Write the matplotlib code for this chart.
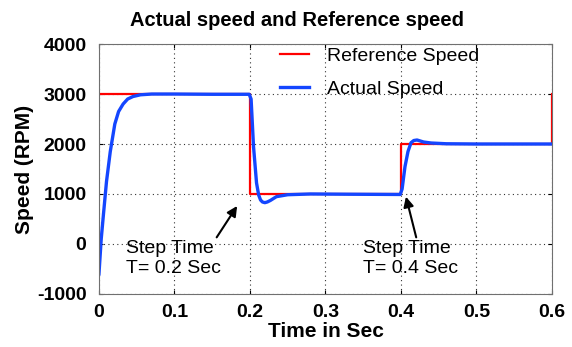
import matplotlib
matplotlib.use("Agg")
from matplotlib import pyplot as plt

# speed command (steps) and measured motor speed, time in seconds
ref_time = [0.0, 0.2, 0.4, 0.6]
ref_speed = [3000, 1000, 2000, 3000]

act_time = [0.0, 0.003, 0.006, 0.010, 0.015, 0.021, 0.026, 0.032, 0.038, 0.045,
            0.055, 0.07, 0.1, 0.15, 0.199, 0.2015, 0.2047, 0.2087, 0.2115, 0.214,
            0.2165, 0.2197, 0.223, 0.227, 0.235, 0.25, 0.28, 0.33, 0.399, 0.4015,
            0.4053, 0.4093, 0.4133, 0.417, 0.4213, 0.43, 0.44, 0.46, 0.5, 0.6]
act_speed = [-600, 100, 600, 1250, 1850, 2400, 2650, 2800, 2900, 2950,
             2985, 3000, 3000, 2995, 2995, 2900, 1950, 1220, 980, 880,
             840, 826, 840, 870, 946, 985, 1000, 995, 990, 1100,
             1546, 1850, 2026, 2070, 2080, 2040, 2020, 2005, 2000, 2000]

xticks = [0, 0.1, 0.2, 0.3, 0.4, 0.5, 0.6]
yticks = [-1000, 0, 1000, 2000, 3000, 4000]

plt.rcParams['font.family'] = ['Liberation Sans', 'DejaVu Sans']
plt.rcParams['axes.unicode_minus'] = False

fig = plt.figure(figsize=(5.72, 3.47), dpi=100)
ax = fig.add_axes([0.173, 0.153, 0.792, 0.720])

ax.plot(ref_time, ref_speed, color="#ff0000", lw=1.6, drawstyle="steps-post",
        label="Reference Speed")
ax.plot(act_time, act_speed, color="#1446ff", lw=2.4, label="Actual Speed")

ax.set_xlim(0, 0.6)
ax.set_ylim(-1000, 4000)
ax.set_xticks(xticks)
ax.set_xticklabels(["0", "0.1", "0.2", "0.3", "0.4", "0.5", "0.6"])
ax.set_yticks(yticks)
ax.tick_params(direction="in", length=3, labelsize=14, top=True, right=True)
ax.tick_params(axis="x", pad=7)
ax.tick_params(axis="y", pad=9)
for lab in ax.get_xticklabels() + ax.get_yticklabels():
    lab.set_fontweight("bold")
ax.grid(True, linestyle=(0, (1, 3)), color="#333333", lw=0.8)
for s in ax.spines.values():
    s.set_color("#707070")

ax.set_xlabel("Time in Sec", fontsize=15, fontweight="bold", labelpad=1)
ax.set_ylabel("Speed (RPM)", fontsize=15, fontweight="bold", labelpad=2)
fig.text(0.519, 0.942, "Actual speed and Reference speed", ha="center", va="center",
         fontsize=14.5, fontweight="bold")

ax.legend(loc="upper left", bbox_to_anchor=(0.395, 0.995), frameon=False, fontsize=14,
          handlelength=1.5, handletextpad=0.9, labelspacing=0.8, borderpad=0.1,
          borderaxespad=0)

ax.annotate("Step Time\nT= 0.2 Sec", xy=(0.183, 760), xytext=(0.036, -290),
            fontsize=14, va="center",
            arrowprops=dict(arrowstyle="-|>", color="black", lw=1.5,
                            shrinkA=0, shrinkB=0, mutation_scale=15,
                            relpos=(0.9, 0.86)))
ax.annotate("Step Time\nT= 0.4 Sec", xy=(0.4066, 946), xytext=(0.35, -290),
            fontsize=14, va="center",
            arrowprops=dict(arrowstyle="-|>", color="black", lw=1.5,
                            shrinkA=0, shrinkB=0, mutation_scale=15,
                            relpos=(0.57, 0.95)))

fig.savefig("out.png", dpi=100)
